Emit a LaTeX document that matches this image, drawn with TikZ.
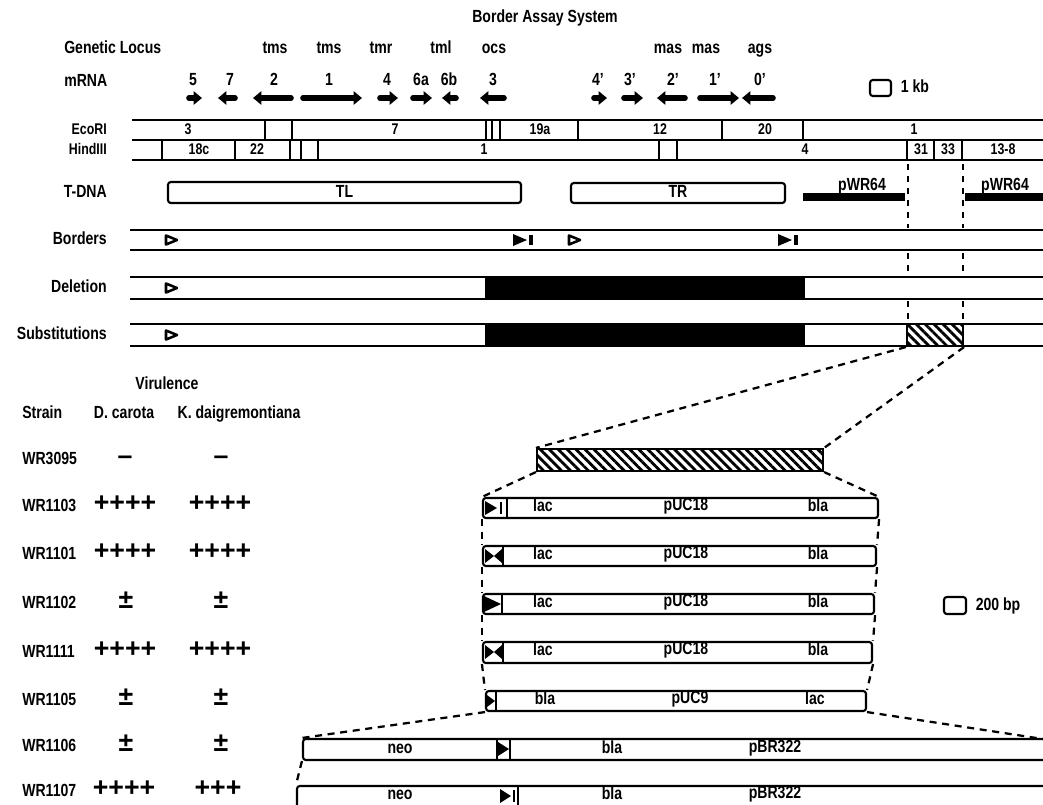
\documentclass[tikz,border=0pt]{standalone}
\usepackage{fontspec}
\setmainfont{Liberation Sans}[FakeStretch=0.8]
\newfontfamily\symfont{Liberation Sans}
\usetikzlibrary{arrows.meta, positioning, fit, patterns.meta}

\begin{document}
\begin{tikzpicture}[
    x=0.025cm, y=-0.025cm,
    every node/.style={font=\bfseries\fontsize{12.5}{14}\selectfont, inner sep=0pt, text height=1.6ex, text depth=0.35ex},
    small/.style={font=\bfseries\fontsize{11}{13}\selectfont},
    rowlabel/.style={anchor=east},
    rule/.style={line width=1.5pt},
    frag/.style={draw, line width=1.5pt, rounded corners=2pt},
    hatchbox/.style={draw, line width=1.5pt, fill=white, postaction={pattern={Lines[angle=-45, distance=4.5pt, line width=2pt]}}},
    mrna/.style={line width=4pt, line cap=round, -{Triangle[length=6pt, width=9.5pt]}},
    cut/.style={line width=2pt, dash pattern=on 4.5pt off 4pt},
    zoomline/.style={line width=1.6pt, dash pattern=on 5pt off 4pt},
    score/.style={font=\symfont\bfseries\fontsize{19}{19}\selectfont},
    border/.style={line width=1.8pt, line join=round}
]
\useasboundingbox (0,0) rectangle (1043,804);

% Header
\node (title) at (545,18) {Border Assay System};
\node[anchor=west] (locus) at (64,49) {Genetic Locus};
\node (tmsA) at (275,49) {tms};
\node (tmsB) at (329,49) {tms};
\node (tmr) at (381,49) {tmr};
\node (tml) at (441,49) {tml};
\node (ocs) at (494,49) {ocs};
\node (masA) at (668,49) {mas};
\node (masB) at (706,49) {mas};
\node (ags) at (760,49) {ags};

\node[anchor=west] (mrna) at (64,82) {mRNA};
\node (tr5) at (193,81) {5};
\node (tr7) at (230,81) {7};
\node (tr2) at (274,81) {2};
\node (tr1) at (329,81) {1};
\node (tr4) at (387,81) {4};
\node (tr6a) at (421,81) {6a};
\node (tr6b) at (449,81) {6b};
\node (tr3) at (493,81) {3};
\node (trA4) at (598,81) {4’};
\node (trA3) at (630,81) {3’};
\node (trA2) at (673,81) {2’};
\node (trA1) at (715,81) {1’};
\node (trA0) at (760,81) {0’};

% Transcripts
\draw[mrna] (189,98) -- (202,98);
\draw[mrna] (235,98) -- (218,98);
\draw[mrna] (291,98) -- (253,98);
\draw[mrna] (303,98) -- (362,98);
\draw[mrna] (380,98) -- (398,98);
\draw[mrna] (413,98) -- (432,98);
\draw[mrna] (456,98) -- (442,98);
\draw[mrna] (504,98) -- (480,98);
\draw[mrna] (594,98) -- (607,98);
\draw[mrna] (624,98) -- (643,98);
\draw[mrna] (685,98) -- (657,98);
\draw[mrna] (700,98) -- (739,98);
\draw[mrna] (773,98) -- (742,98);

% Scale 1 kb
\node[frag, fit={(870,80) (891,96)}] (kb) {};
\node[right=6pt of kb] (kblabel) {1 kb};

% Restriction maps
\node[rowlabel, small] (ecori) at (107,130) {EcoRI};
\node[rowlabel, small] (hind) at (107,150) {HindIII};
\draw[rule] (132,120) -- (1043,120) (132,140) -- (1043,140) (132,160) -- (1043,160);
\draw[rule] (265,120) -- (265,140) (292,120) -- (292,140) (486,120) -- (486,140)
            (492,120) -- (492,140) (500,120) -- (500,140) (578,120) -- (578,140)
            (722,120) -- (722,140) (803,120) -- (803,140);
\draw[rule] (162,140) -- (162,160) (235,140) -- (235,160) (290,140) -- (290,160)
            (301,140) -- (301,160) (318,140) -- (318,160) (659,140) -- (659,160)
            (677,140) -- (677,160) (907,140) -- (907,160) (934,140) -- (934,160)
            (962,140) -- (962,160);
\node[small] (eA) at (188,130) {3};
\node[small] (eB) at (395,130) {7};
\node[small] (eC) at (540,130) {19a};
\node[small] (eD) at (660,130) {12};
\node[small] (eE) at (765,130) {20};
\node[small] (eF) at (914,130) {1};
\node[small] (hA) at (199,150) {18c};
\node[small] (hB) at (257,150) {22};
\node[small] (hC) at (484,150) {1};
\node[small] (hD) at (805,150) {4};
\node[small] (hE) at (921,150) {31};
\node[small] (hF) at (948,150) {33};
\node[small] (hG) at (1003,150) {13-8};

% T-DNA
\node[rowlabel] (tdna) at (107,193) {T-DNA};
\node[frag, fit={(168,182) (521,203)}] (tl) {};
\node (tltext) at (tl.center) {TL};
\node[frag, fit={(571,183) (785,203)}] (tr) {};
\node (trtext) at (tr.center) {TR};
\draw[line width=5pt] (803,197) -- (905,197);
\draw[line width=5pt] (965,197) -- (1043,197);
\node[anchor=base] (pwrA) at (862,190) {pWR64};
\node[anchor=base] (pwrB) at (1005,190) {pWR64};

% Borders
\node[rowlabel] (borders) at (107,240) {Borders};
\draw[rule] (130,230) -- (1043,230) (130,250) -- (1043,250);
\draw[border] (166,235.5) -- (177,240) -- (166,244.5) -- cycle;
\fill (513,234) -- (527,240) -- (513,246) -- cycle;
\draw[line width=2.5pt] (531,235) -- (531,245);
\draw[border] (569,235.5) -- (580,240) -- (569,244.5) -- cycle;
\fill (778,234) -- (792,240) -- (778,246) -- cycle;
\draw[line width=2.5pt] (796,235) -- (796,245);

% Deletion
\node[rowlabel] (deletion) at (107,288) {Deletion};
\draw[rule] (130,277) -- (1043,277) (130,299) -- (1043,299);
\fill (485,277) rectangle (805,299);
\draw[border] (166,283.5) -- (177,288) -- (166,292.5) -- cycle;

% Substitutions
\node[rowlabel] (subst) at (107,335) {Substitutions};
\draw[rule] (130,324) -- (1043,324) (130,346) -- (1043,346);
\fill (485,324) rectangle (805,346);
\node[hatchbox, fit={(907,324) (963,346)}] (region) {};
\draw[border] (166,330.5) -- (177,335) -- (166,339.5) -- cycle;

% Cut sites carried down
\draw[cut] (908,164) -- (908,228) (963,164) -- (963,228)
           (908,253) -- (908,275) (963,253) -- (963,275)
           (908,301) -- (908,322) (963,301) -- (963,322);

% Virulence table
\node (virulence) at (167,385) {Virulence};
\node[anchor=west] (strain) at (22,414) {Strain};
\node (carota) at (124,414) {D. carota};
\node (daigre) at (239,414) {K. daigremontiana};

\node[anchor=west] (s3095) at (22,460) {WR3095};
\node[score] (c3095) at (125,460) {–};
\node[score] (k3095) at (221,460) {–};
\node[anchor=west] (s1103) at (22,507) {WR1103};
\node[score] (c1103) at (125,507) {++++};
\node[score] (k1103) at (220,507) {++++};
\node[anchor=west] (s1101) at (22,555) {WR1101};
\node[score] (c1101) at (125,555) {++++};
\node[score] (k1101) at (220,555) {++++};
\node[anchor=west] (s1102) at (22,604) {WR1102};
\node[score] (c1102) at (126,604) {±};
\node[score] (k1102) at (221,604) {±};
\node[anchor=west] (s1111) at (22,653) {WR1111};
\node[score] (c1111) at (125,653) {++++};
\node[score] (k1111) at (220,653) {++++};
\node[anchor=west] (s1105) at (22,701) {WR1105};
\node[score] (c1105) at (126,701) {±};
\node[score] (k1105) at (221,701) {±};
\node[anchor=west] (s1106) at (22,747) {WR1106};
\node[score] (c1106) at (126,747) {±};
\node[score] (k1106) at (221,747) {±};
\node[anchor=west] (s1107) at (22,792) {WR1107};
\node[score] (c1107) at (124,792) {++++};
\node[score] (k1107) at (218,792) {+++};

% Enlarged substitution
\node[hatchbox, fit={(537,449) (823,471)}] (insert) {};
\draw[zoomline] (region.south west) -- (insert.north west);
\draw[zoomline] (region.south east) -- (insert.north east);

% pUC constructs
\node[frag, fit={(483,498) (878,518)}] (pucA) {};
\node[frag, fit={(483,546) (876,566)}] (pucB) {};
\node[frag, fit={(483,594) (874,614)}] (pucC) {};
\node[frag, fit={(483,642) (872,663)}] (pucD) {};
\node[frag, fit={(486,691) (866,711)}] (pucE) {};
\draw[rule] (507,498) -- (507,518) (503,546) -- (503,566) (502,594) -- (502,614)
            (503,642) -- (503,663) (496,691) -- (496,711);
\fill (485,501) -- (497,508) -- (485,515) -- cycle;
\draw[line width=1.5pt] (501,502) -- (501,514);
\fill (485,549) -- (494,556) -- (485,563) -- cycle;
\fill (502,549) -- (494,556) -- (502,563) -- cycle;
\fill (484,596) -- (501,604) -- (484,612) -- cycle;
\fill (485,645) -- (494,652) -- (485,659) -- cycle;
\fill (502,645) -- (494,652) -- (502,659) -- cycle;
\fill (487,695) -- (495,701) -- (487,707) -- cycle;

\node (lacA) at (543,507) {lac};
\node (pucAtext) at (686,506) {pUC18};
\node (blaA) at (818,507) {bla};
\node (lacB) at (543,555) {lac};
\node (pucBtext) at (686,554) {pUC18};
\node (blaB) at (818,555) {bla};
\node (lacC) at (543,603) {lac};
\node (pucCtext) at (686,602) {pUC18};
\node (blaC) at (818,603) {bla};
\node (lacD) at (543,651) {lac};
\node (pucDtext) at (686,650) {pUC18};
\node (blaD) at (818,651) {bla};
\node (blaE) at (545,700) {bla};
\node (pucEtext) at (690,699) {pUC9};
\node (lacE) at (815,700) {lac};

\draw[zoomline] (insert.south west) -- (pucA.north west);
\draw[zoomline] (insert.south east) -- (pucA.north east);
\draw[zoomline] (pucA.south west) -- (pucB.north west);
\draw[zoomline] (pucA.south east) -- (pucB.north east);
\draw[zoomline] (pucB.south west) -- (pucC.north west);
\draw[zoomline] (pucB.south east) -- (pucC.north east);
\draw[zoomline] (pucC.south west) -- (pucD.north west);
\draw[zoomline] (pucC.south east) -- (pucD.north east);
\draw[zoomline] (pucD.south west) -- (pucE.north west);
\draw[zoomline] (pucD.south east) -- (pucE.north east);

% Scale 200 bp
\node[frag, fit={(944,597) (966,614)}] (bp) {};
\node[right=6pt of bp] (bplabel) {200 bp};

% pBR322 constructs
\node[frag, fit={(303,739) (1052,760)}] (pbrA) {};
\node[frag, fit={(297,786) (1052,808)}] (pbrB) {};
\coordinate (rim) at (1043,739);
\draw[rule] (497,739) -- (497,760) (510,739) -- (510,760) (518,786) -- (518,808);
\fill (498,742) -- (509,749) -- (498,756) -- cycle;
\fill (500,789) -- (511,796) -- (500,803) -- cycle;
\draw[line width=1.5pt] (514,790) -- (514,802);
\node (neoA) at (400,749) {neo};
\node (blaF) at (612,749) {bla};
\node (pbrAtext) at (775,748) {pBR322};
\node (neoB) at (400,795) {neo};
\node (blaG) at (612,795) {bla};
\node (pbrBtext) at (775,794) {pBR322};

\draw[zoomline] (pucE.south west) -- (pbrA.north west);
\draw[zoomline] (pucE.south east) -- (rim);
\draw[zoomline] (pbrA.south west) -- (pbrB.north west);

\end{tikzpicture}
\end{document}
